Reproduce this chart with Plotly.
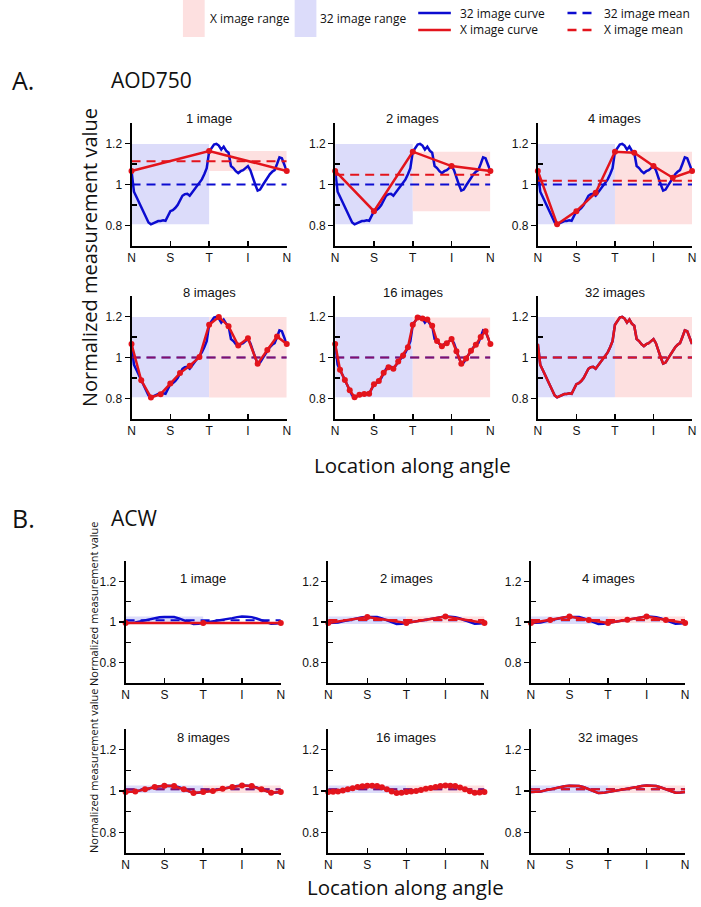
import plotly.graph_objects as go

W, H = 701, 907

# ---------------- data ----------------
tick_pos = [0, 1, 2, 3, 4]
tick_labels = ["N", "S", "T", "I", "N"]
y_major = [0.8, 1.0, 1.2]
y_major_labels = ["0.8", "1", "1.2"]
y_minor = [0.9, 1.1]

panel_titles = ["1 image", "2 images", "4 images", "8 images", "16 images", "32 images"]

# AOD750 : 32 image curve (65 samples N..N)
aod_32 = [1.066, 0.965, 0.94, 0.915, 0.89, 0.87, 0.84, 0.815, 0.806, 0.812,
          0.818, 0.822, 0.822, 0.825, 0.823, 0.845, 0.87, 0.875, 0.885, 0.9,
          0.925, 0.945, 0.953, 0.955, 0.945, 0.96, 0.98, 0.995, 1.01, 1.025,
          1.05, 1.08, 1.16, 1.18, 1.195, 1.198, 1.19, 1.17, 1.185, 1.165,
          1.155, 1.09, 1.08, 1.065, 1.055, 1.065, 1.07, 1.08, 1.09, 1.07,
          1.03, 1.0, 0.97, 0.975, 0.995, 1.015, 1.033, 1.05, 1.062, 1.07,
          1.1, 1.132, 1.128, 1.095, 1.066]
aod_1 = [1.066, 1.163, 1.066]
aod_2 = [1.066, 0.87, 1.16, 1.09, 1.066]
aod_4 = [1.066, 0.806, 0.87, 0.96, 1.16, 1.155, 1.09, 1.033, 1.066]
aod_8 = [1.066, 0.889, 0.805, 0.821, 0.873, 0.924, 0.96, 1.002, 1.16,
         1.198, 1.153, 1.058, 1.094, 0.969, 1.037, 1.102, 1.066]
aod_16 = [1.066, 0.94, 0.89, 0.84, 0.806, 0.818, 0.822, 0.823, 0.87, 0.885,
          0.925, 0.953, 0.945, 0.98, 1.01, 1.05, 1.16, 1.195, 1.19, 1.185,
          1.155, 1.08, 1.055, 1.07, 1.09, 1.03, 0.97, 0.995, 1.033, 1.062,
          1.1, 1.128, 1.066]
aod_mean_32 = 1.0
aod_mean_x = [1.113, 1.048, 1.018, 1.0, 1.0, 1.0]

# ACW : 32 image curve
acw_32 = [0.995, 0.996, 0.998, 1.003, 1.008, 1.013, 1.019, 1.023, 1.025, 1.026,
          1.024, 1.018, 1.008, 0.998, 0.99, 0.991, 0.995, 0.997, 1.0, 1.005,
          1.011, 1.015, 1.019, 1.024, 1.027, 1.026, 1.024, 1.017, 1.008, 0.999,
          0.992, 0.993, 0.995]
acw_1 = [0.995, 0.995, 0.995]
acw_2 = [0.995, 1.025, 0.995, 1.027, 0.995]
acw_4 = [0.995, 1.01, 1.027, 1.01, 0.995, 1.011, 1.027, 1.01, 0.995]
acw_8 = [0.995, 0.998, 1.008, 1.019, 1.025, 1.024, 1.008, 0.99, 0.995,
         1.0, 1.011, 1.019, 1.027, 1.024, 1.008, 0.992, 0.995]
acw_16 = [0.995, 0.996, 0.998, 1.003, 1.008, 1.013, 1.019, 1.023, 1.025, 1.026,
          1.024, 1.018, 1.008, 0.998, 0.99, 0.991, 0.995, 0.997, 1.0, 1.005,
          1.011, 1.015, 1.019, 1.024, 1.027, 1.026, 1.024, 1.017, 1.008, 0.999,
          0.992, 0.993, 0.995]
acw_mean_32 = 1.008
acw_mean_x = [0.995, 1.01, 1.01, 1.008, 1.008, 1.008]

# ---------------- style ----------------
BLUE = "#0c0cd0"
RED = "#e3141c"
BLUE_FILL = "#dcdcfa"
RED_FILL = "#fde0e0"
TICK_FONT = dict(family="Liberation Sans, Arial", size=12, color="#111")
BIG_FONT = "Open Sans"

A_cols = [(129, 286), (335, 492), (540, 696)]
A_rows = [(123, 246), (296, 419)]
B_cols = [(123, 280), (328, 486), (533, 689)]
B_rows = [(561, 683), (729, 853)]
A_title_y = [118, 293]
B_title_y = [578, 737]

sections = [
    dict(cols=A_cols, rows=A_rows, title_y=A_title_y, c32=aod_32,
         xc=[aod_1, aod_2, aod_4, aod_8, aod_16, aod_32],
         m32=aod_mean_32, mx=aod_mean_x),
    dict(cols=B_cols, rows=B_rows, title_y=B_title_y, c32=acw_32,
         xc=[acw_1, acw_2, acw_4, acw_8, acw_16, acw_32],
         m32=acw_mean_32, mx=acw_mean_x),
]

fig = go.Figure()
layout = {}
shapes = []
annotations = []


def positions(vals):
    n = len(vals) - 1
    return [4 * k / n for k in range(len(vals))]


n = 0
for sec in sections:
    for p in range(6):
        n += 1
        r, c = divmod(p, 3)
        x0, x1 = sec["cols"][c]
        y0, y1 = sec["rows"][r]
        xa = "x" if n == 1 else f"x{n}"
        ya = "y" if n == 1 else f"y{n}"
        layout[f"xaxis{n}"] = dict(
            domain=[x0 / W, x1 / W], anchor=ya, range=[0, 4],
            tickvals=tick_pos, ticktext=tick_labels, ticks="inside",
            ticklen=5, tickwidth=1.5, tickcolor="black",
            showline=True, linecolor="black", linewidth=2,
            showgrid=False, zeroline=False, tickfont=TICK_FONT, fixedrange=True)
        layout[f"yaxis{n}"] = dict(
            domain=[1 - y1 / H, 1 - y0 / H], anchor=xa, range=[0.7, 1.3],
            tickvals=y_major, ticktext=y_major_labels, ticks="outside",
            ticklen=5, tickwidth=1.5, tickcolor="black",
            minor=dict(tickvals=y_minor, ticks="inside", ticklen=5,
                       tickwidth=1.5, tickcolor="black"),
            showline=True, linecolor="black", linewidth=2,
            showgrid=False, zeroline=False, tickfont=TICK_FONT, fixedrange=True)

        c32 = sec["c32"]
        xc = sec["xc"][p]
        # range boxes
        shapes.append(dict(type="rect", xref=xa, yref=ya, x0=0, x1=2,
                           y0=min(c32), y1=max(c32), fillcolor=BLUE_FILL,
                           line=dict(width=0), layer="below"))
        shapes.append(dict(type="rect", xref=xa, yref=ya, x0=2, x1=4,
                           y0=min(xc), y1=max(xc), fillcolor=RED_FILL,
                           line=dict(width=0), layer="below"))
        # curves
        fig.add_trace(go.Scatter(x=positions(c32), y=c32, xaxis=xa, yaxis=ya,
                                 mode="lines", line=dict(color=BLUE, width=2.5),
                                 cliponaxis=False, hoverinfo="skip"))
        fig.add_trace(go.Scatter(x=[0, 4], y=[sec["m32"]] * 2, xaxis=xa, yaxis=ya,
                                 mode="lines",
                                 line=dict(color=BLUE, width=2, dash="9px,6px"),
                                 hoverinfo="skip"))
        is32 = p == 5
        fig.add_trace(go.Scatter(x=positions(xc), y=xc, xaxis=xa, yaxis=ya,
                                 mode="lines" if is32 else "lines+markers",
                                 line=dict(color=RED, width=2.5),
                                 marker=dict(color=RED, size=6),
                                 cliponaxis=False, hoverinfo="skip"))
        fig.add_trace(go.Scatter(x=[0, 4], y=[sec["mx"][p]] * 2, xaxis=xa, yaxis=ya,
                                 mode="lines",
                                 opacity=0.55 if p in (3, 4) else 1.0,
                                 line=dict(color=RED, width=2, dash="9px,6px"),
                                 hoverinfo="skip"))
        annotations.append(dict(text=panel_titles[p], xref="paper", yref="paper",
                                x=(x0 + x1) / 2 / W, y=1 - sec["title_y"][r] / H,
                                showarrow=False, xanchor="center", yanchor="middle",
                                font=dict(family="Liberation Sans, Arial", size=13,
                                          color="#111")))


def txt(s, x, y, size, anchor="left", angle=0, family=BIG_FONT):
    annotations.append(dict(text=s, xref="paper", yref="paper", x=x / W, y=1 - y / H,
                            showarrow=False, xanchor=anchor, yanchor="middle",
                            textangle=angle,
                            font=dict(family=family, size=size, color="#111")))


# section labels
txt("A.", 6, 80, 25)
txt("AOD750", 106, 80, 21)
txt("Normalized measurement value", 86, 258, 20, anchor="center", angle=-90)
txt("Location along angle", 413, 465, 20.5, anchor="center")
txt("B.", 6, 518, 25)
txt("ACW", 106, 518, 21)
txt("Normalized measurement value", 90, 603, 11, anchor="center", angle=-90)
txt("Normalized measurement value", 90, 770, 11, anchor="center", angle=-90)
txt("Location along angle", 406, 887, 20.5, anchor="center")

# manual legend
def prect(x0, x1, y0, y1, color):
    shapes.append(dict(type="rect", xref="paper", yref="paper", x0=x0 / W, x1=x1 / W,
                       y0=1 - y1 / H, y1=1 - y0 / H, fillcolor=color,
                       line=dict(width=0)))


def pline(x0, x1, y, color, dash):
    shapes.append(dict(type="line", xref="paper", yref="paper", x0=x0 / W, x1=x1 / W,
                       y0=1 - y / H, y1=1 - y / H,
                       line=dict(color=color, width=2.5, dash=dash)))


LEG = 12
prect(181, 203, 0, 37, RED_FILL)
txt("X image range", 206, 19, LEG)
prect(294, 316, 0, 37, BLUE_FILL)
txt("32 image range", 318, 19, LEG)
pline(419, 452, 13, BLUE, "solid")
txt("32 image curve", 459, 13, LEG)
pline(419, 452, 30, RED, "solid")
txt("X image curve", 459, 30, LEG)
pline(570, 596, 13, BLUE, "9px,6px")
txt("32 image mean", 605, 13, LEG)
pline(570, 596, 30, RED, "9px,6px")
txt("X image mean", 605, 30, LEG)

fig.update_layout(**layout)
fig.update_layout(width=W, height=H, margin=dict(l=0, r=0, t=0, b=0),
                  paper_bgcolor="white", plot_bgcolor="rgba(0,0,0,0)",
                  showlegend=False, shapes=shapes, annotations=annotations)

fig.write_html("out.html",
               config={"displayModeBar": False, "staticPlot": True},
               post_script="document.body.style.margin='0';"
                           "document.body.style.overflow='hidden';")
